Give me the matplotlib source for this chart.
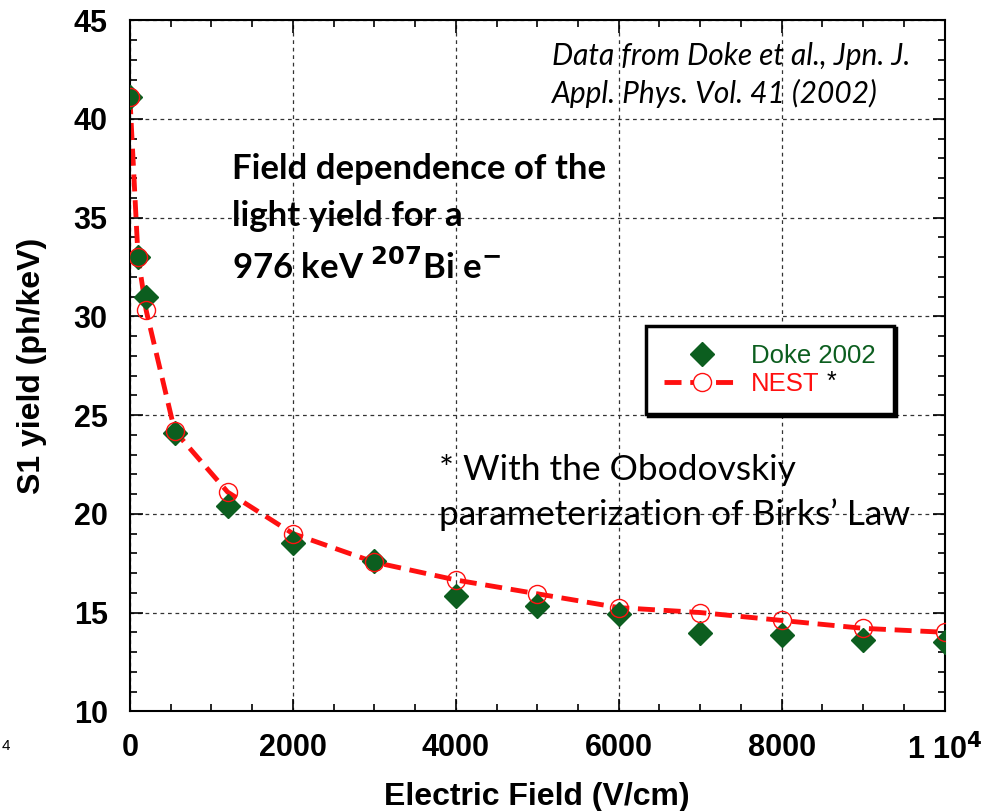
import matplotlib
import matplotlib.pyplot as plt
import numpy as np
from matplotlib.ticker import MultipleLocator, FixedLocator

matplotlib.use("Agg")

# field values (V/cm) and S1 yields (ph/keV)
doke_field = [0, 100, 200, 550, 1200, 2000, 3000, 4000, 5000, 6000, 7000, 8000, 9000, 10000]
doke_yield = [41.1, 33.0, 31.0, 24.1, 20.4, 18.5, 17.6, 15.85, 15.35, 14.95, 13.95, 13.85, 13.6, 13.5]

nest_field = [0, 100, 200, 550, 1200, 2000, 3000, 4000, 5000, 6000, 7000, 8000, 9000, 10000]
nest_yield = [41.1, 33.0, 30.3, 24.2, 21.1, 19.0, 17.55, 16.65, 15.95, 15.25, 15.0, 14.6, 14.2, 14.0]

x_ticks = [0, 2000, 4000, 6000, 8000, 10000]
x_tick_labels = ["0", "2000", "4000", "6000", "8000", r"1 10$^{\mathbf{4}}$"]

green = "#0c5e1f"
red = "#ff1010"

fig = plt.figure(figsize=(9.84, 8.11), dpi=100)
ax = fig.add_axes([0.132, 0.123, 0.828, 0.852])

ax.plot(nest_field, nest_yield, color=red, lw=3.5, ls=(0, (3.5, 1.8)), zorder=2)
ax.plot(nest_field, nest_yield, ls="none", marker="o", ms=13, mfc="none", mec=red, mew=1.0, zorder=4)
ax.plot(doke_field, doke_yield, ls="none", marker="D", ms=12, color=green, zorder=3)

ax.set_xlim(0, 10000)
ax.set_ylim(10, 45)
ax.xaxis.set_major_locator(FixedLocator(x_ticks))
ax.set_xticklabels(x_tick_labels)
ax.xaxis.set_minor_locator(MultipleLocator(500))
ax.yaxis.set_major_locator(MultipleLocator(5))
ax.yaxis.set_minor_locator(MultipleLocator(1))
ax.tick_params(which="both", direction="in", top=True, right=True, width=1.2)
ax.tick_params(which="major", length=9, pad=16)
ax.tick_params(which="minor", length=5)
for lab in ax.get_xticklabels() + ax.get_yticklabels():
    lab.set_fontfamily("Liberation Sans")
    lab.set_fontweight("bold")
    lab.set_fontsize(22)
for sp in ax.spines.values():
    sp.set_linewidth(1.5)
ax.grid(True, which="major", ls=(0, (3, 3)), color="#333333", lw=0.9)

ax.set_xlabel("Electric Field (V/cm)", fontfamily="Liberation Sans", fontweight="bold", fontsize=23)
ax.set_ylabel("S1 yield (ph/keV)", fontfamily="Liberation Sans", fontweight="bold", fontsize=23)
ax.xaxis.set_label_coords(0.5, -0.102)
ax.yaxis.set_label_coords(-0.102, 0.5)

# legend
h1 = ax.plot([], [], ls="none", marker="D", ms=12, color=green)[0]
h2 = ax.plot([], [], color=red, lw=3.5, ls=(0, (3.5, 1.8)), marker="o", ms=13, mfc="white", mec=red, mew=1.0)[0]
leg = ax.legend([h1, h2], ["Doke 2002", "NEST"], loc="upper left", bbox_to_anchor=(0.633, 0.558),
                fancybox=False, shadow={"color": "black", "alpha": 1}, framealpha=1, edgecolor="black",
                prop={"family": "Liberation Sans", "size": 18.5}, handlelength=3.0, handletextpad=0.4,
                borderpad=0.7, labelspacing=0.15, borderaxespad=0)
leg.get_frame().set_linewidth(2.5)
leg.get_texts()[0].set_color(green)
leg.get_texts()[1].set_color(red)
fig.text(0.840, 0.529, "*", fontfamily="Liberation Sans", fontsize=18, va="center")

ax.text(0.518, 0.968, "Data from Doke et al., Jpn. J.\nAppl. Phys. Vol. 41 (2002)", transform=ax.transAxes,
        fontfamily="Lato", style="italic", fontsize=21.5, va="top", linespacing=1.37)
ax.text(0.125, 0.808, "Field dependence of the\nlight yield for a\n976 keV $^{\\mathbf{207}}$Bi e$^{\\mathbf{-}}$",
        transform=ax.transAxes, fontfamily="Lato", fontweight="bold", fontsize=25, va="top", linespacing=1.56)
ax.text(0.38, 0.372, "* With the Obodovskiy\nparameterization of Birks\u2019 Law", transform=ax.transAxes,
        fontfamily="Lato", fontsize=25.5, va="top", linespacing=1.46)

fig.text(0.002, 0.075, "4", fontfamily="Liberation Sans", fontsize=11)

fig.savefig("out.png", dpi=100)
plt.close(fig)
